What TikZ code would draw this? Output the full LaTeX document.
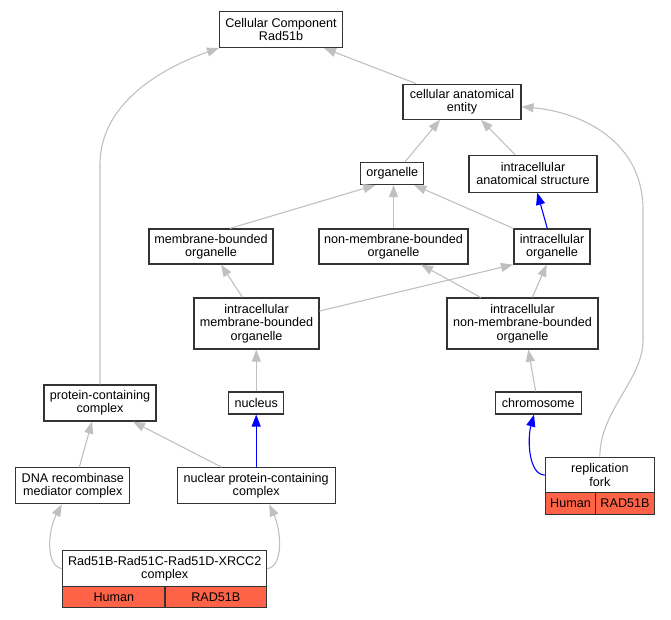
\documentclass[tikz,border=0pt]{standalone}
\usepackage{fontspec}
\setmainfont{Liberation Sans}
\usetikzlibrary{arrows.meta,calc}
\definecolor{edgegray}{HTML}{C0C0C0}
\definecolor{tomatored}{HTML}{FF6347}
\definecolor{boxline}{HTML}{333333}
\begin{document}
\begin{tikzpicture}[x=1pt,y=-1pt,
  term/.style={draw=boxline, line width=1.2pt, fill=white, rectangle, inner sep=0pt, align=center, font=\fontsize{12.6}{13.3}\selectfont},
  cell/.style={term, fill=tomatored, minimum height=21pt},
  edge/.style={draw=edgegray, line width=1.1pt, -{Triangle[length=12pt,width=9pt]}},
  blueedge/.style={edge, draw=blue}]
\useasboundingbox (0,0) rectangle (671,619);

% nodes
\node[term, minimum width=123pt, minimum height=36pt] (cc) at (281,29.5) {Cellular Component\\Rad51b};
\node[term, minimum width=118pt, minimum height=35pt] (cae) at (462,101.7) {cellular anatomical\\entity};
\node[term, minimum width=63pt, minimum height=22pt] (org) at (392.3,173.5) {organelle};
\node[term, minimum width=128pt, minimum height=37pt] (ias) at (533,173.7) {intracellular\\anatomical structure};
\node[term, minimum width=124pt, minimum height=35pt] (mbo) at (211,246.5) {membrane-bounded\\organelle};
\node[term, minimum width=149pt, minimum height=35pt] (nmbo) at (393.5,246.5) {non-membrane-bounded\\organelle};
\node[term, minimum width=76pt, minimum height=35pt] (io) at (552,246.5) {intracellular\\organelle};
\node[term, minimum width=125pt, minimum height=51pt] (imbo) at (256.5,323.5) {intracellular\\membrane-bounded\\organelle};
\node[term, minimum width=151pt, minimum height=51pt] (inmbo) at (522.5,323.5) {intracellular\\non-membrane-bounded\\organelle};
\node[term, minimum width=112pt, minimum height=36pt] (pcc) at (100,403) {protein-containing\\complex};
\node[term, minimum width=55pt, minimum height=22pt] (nuc) at (256.3,403) {nucleus};
\node[term, minimum width=86pt, minimum height=22pt] (chr) at (538.3,403) {chromosome};
\node[term, minimum width=114pt, minimum height=36pt] (dna) at (72.8,485.8) {DNA recombinase\\mediator complex};
\node[term, minimum width=158pt, minimum height=36pt] (npcc) at (256.2,485.8) {nuclear protein-containing\\complex};
\node[term, minimum width=204pt, minimum height=36pt] (rc) at (164.7,568.7) {Rad51B-Rad51C-Rad51D-XRCC2\\complex};
\node[cell, minimum width=102.3pt] (rch) at (113.85,597.2) {Human};
\node[cell, minimum width=101.7pt] (rcg) at (215.85,597.2) {RAD51B};
\node[term, minimum width=109pt, minimum height=35.4pt] (rf) at (599.8,475) {replication\\fork};
\node[cell, minimum width=50.4pt, minimum height=21.6pt] (rfh) at (570.5,503.5) {Human};
\node[cell, minimum width=58.6pt, minimum height=21.6pt] (rfg) at (625,503.5) {RAD51B};

% edges
\draw[edge] ([xshift=-46pt]cae.north) -- ([xshift=43pt]cc.south);
\draw[edge] (pcc.north) -- ++(0,-220) .. controls +(0,-65) and (170,65) .. (cc.south west);
\draw[edge] ([xshift=12.7pt]org.north) -- ([xshift=-22pt]cae.south);
\draw[edge] ([xshift=-18pt]ias.north) -- ([xshift=19pt]cae.south);
\draw[edge] (rf.north) .. controls (600,410) and (643,380) .. (643,340) -- (643,210) .. controls (643,140) and (580,112) .. ([yshift=-5pt]cae.east);
\draw[edge] ([xshift=19pt]mbo.north) -- ([xshift=-17pt]org.south);
\draw[edge] (nmbo.north) -- (nmbo.north |- org.south);
\draw[edge] (io.north west) -- ([xshift=22pt]org.south);
\draw[blueedge] ([xshift=-4.7pt]io.north) -- ([xshift=4.3pt]ias.south);
\draw[edge] ([xshift=-14pt]imbo.north) -- ([xshift=10pt]mbo.south);
\draw[edge] ([yshift=12.5pt]imbo.east) -- ([xshift=-0.5pt]io.south west);
\draw[edge] ([xshift=-41.8pt]inmbo.north) -- ([xshift=27.5pt]nmbo.south);
\draw[edge] ([xshift=9.8pt]inmbo.north) -- ([xshift=-5.3pt]io.south);
\draw[edge] (nuc.north) -- (nuc.north |- imbo.south);
\draw[edge] ([xshift=-2.6pt]chr.north) -- ([xshift=5.8pt]inmbo.south);
\draw[edge] ([xshift=6.5pt]dna.north) -- ([xshift=-8pt]pcc.south);
\draw[edge] ([xshift=-34.5pt]npcc.north) -- ([xshift=33pt]pcc.south);
\draw[blueedge] (npcc.north) -- (npcc.north |- nuc.south);
\draw[edge] (rc.west) .. controls (45,566) and (48,530) .. ([xshift=-11pt]dna.south);
\draw[edge] (rc.east) .. controls (284,566) and (281,530) .. ([xshift=13pt]npcc.south);
\draw[blueedge] (rf.west) .. controls (529,475) and (527,440) .. ([xshift=-4.3pt]chr.south);
\end{tikzpicture}
\end{document}
